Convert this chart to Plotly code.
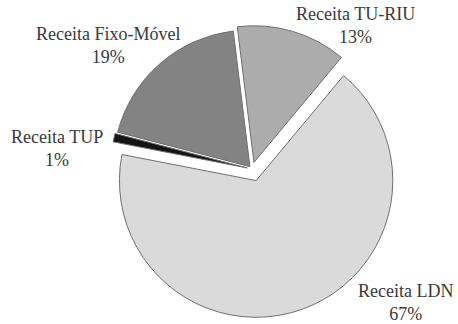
import plotly.graph_objects as go

# Revenue composition (share of total, %)
labels = ["Receita TU-RIU", "Receita LDN", "Receita TUP", "Receita Fixo-Móvel"]
shares = [13, 67, 1, 19]
colors = ["#acacac", "#dadada", "#141414", "#838383"]
pulls = [0.05, 0.09, 0.035, 0.023]

W, H = 458, 324
L, T, SIZE = 103, 20, 298  # plot area (pixels)

# label block centres in pixels, one per slice
label_xy = [(355, 26), (405, 302), (57, 148), (108, 45)]

fig = go.Figure(
    go.Pie(
        labels=labels,
        values=shares,
        sort=False,
        direction="clockwise",
        rotation=-7,
        pull=pulls,
        marker=dict(colors=colors, line=dict(color="#707070", width=1)),
        textinfo="none",
        hoverinfo="label+percent",
        showlegend=False,
    )
)

total = sum(shares)
for lab, val, (px, py) in zip(labels, shares, label_xy):
    fig.add_annotation(
        x=(px - L) / SIZE,
        y=(T + SIZE - py) / SIZE,
        xref="paper",
        yref="paper",
        text=f"{lab}<br>{round(100 * val / total)}%",
        showarrow=False,
        xanchor="center",
        yanchor="middle",
        align="center",
        font=dict(family="Liberation Serif", size=18, color="#3a3a3a"),
    )

fig.update_layout(
    width=W,
    height=H,
    margin=dict(l=L, r=W - L - SIZE, t=T, b=H - T - SIZE),
    paper_bgcolor="white",
    plot_bgcolor="white",
)

fig.write_html("out.html")
